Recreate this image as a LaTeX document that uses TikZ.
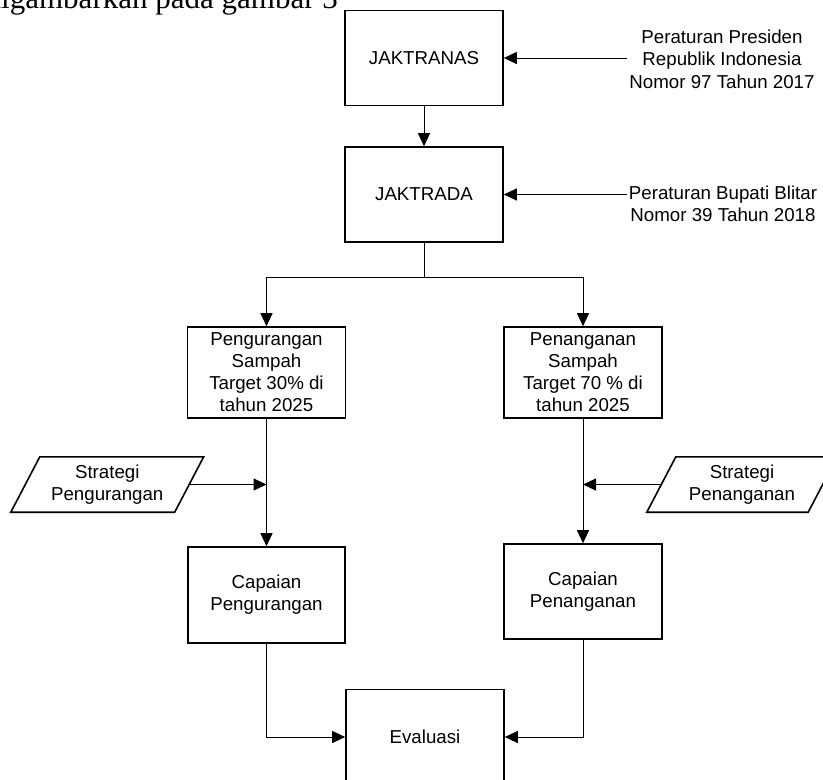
\documentclass[tikz,border=0pt]{standalone}
\usepackage{fontspec}
\setmainfont{Liberation Sans}
\newfontfamily\serifhead{Liberation Serif}
\usetikzlibrary{arrows.meta,calc}
\begin{document}
\begin{tikzpicture}[x=1pt,y=-1pt,
  box/.style={draw, line width=1.6pt, minimum width=158pt, minimum height=95pt, inner sep=0pt, align=center, font=\fontsize{18.7}{22}\selectfont},
  lbl/.style={align=center, inner sep=2pt, font=\fontsize{18.7}{22.5}\selectfont},
  para/.style={align=center, inner sep=0pt, minimum height=55pt, font=\fontsize{18.7}{22}\selectfont},
  paraline/.style={line width=1.6pt},
  conn/.style={line width=1pt, draw=black},
  arr/.style={conn, -{Triangle[length=13pt,width=12pt]}},
]
\useasboundingbox (0,0) rectangle (823,780);
\clip (0,0) rectangle (823,780);

% cropped caption text at the top
\node[anchor=base east, inner sep=0pt, font=\serifhead\fontsize{31}{31}\selectfont] (cap) at (338,8) {digambarkan pada gambar 3};

% boxes
\node[box] (jn) at (424,58) {JAKTRANAS};
\node[box] (jd) at (424,194.5) {JAKTRADA};
\node[box, minimum height=91pt] (ps) at (266.5,372.5) {Pengurangan\\Sampah\\Target 30\% di\\tahun 2025};
\node[box, minimum height=91pt] (pn) at (583,372.5) {Penanganan\\Sampah\\Target 70 \% di\\tahun 2025};
\node[box, minimum width=157pt, minimum height=96pt] (cp) at (266.5,595) {Capaian\\Pengurangan};
\node[box] (cn) at (583,591.5) {Capaian\\Penanganan};
\node[box] (ev) at (425,737) {Evaluasi};

% legal basis labels
\node[lbl] (law1) at (722,59) {Peraturan Presiden\\Republik Indonesia\\Nomor 97 Tahun 2017};
\node[lbl] (law2) at (723,204) {Peraturan Bupati Blitar\\Nomor 39 Tahun 2018};

% strategy parallelograms
\node[para, minimum width=163.5pt] (sp) at (107.25,484.5) {Strategi\\Pengurangan};
\draw[paraline] ($(sp.north west)+(14.5,0)$) -- ($(sp.north east)+(14.5,0)$) -- ($(sp.south east)+(-14.5,0)$) -- ($(sp.south west)+(-14.5,0)$) -- cycle;
\node[para, minimum width=161pt] (sn) at (742,484.5) {Strategi\\Penanganan};
\draw[paraline] ($(sn.north west)+(14.5,0)$) -- ($(sn.north east)+(14.5,0)$) -- ($(sn.south east)+(-14.5,0)$) -- ($(sn.south west)+(-14.5,0)$) -- cycle;

% connectors
\draw[arr] (law1.west |- jn.east) -- (jn.east);
\draw[arr] (jn) -- (jd);
\draw[arr] (law2.west |- jd.east) -- (jd.east);
\coordinate (br) at (424,277);
\draw[arr] (jd.south) -- (br) -| (ps.north);
\draw[arr] (br) -| (pn.north);
\draw[arr] (ps.south) -- (cp.north);
\draw[arr] (sp.east) -- (ps.south |- sp.east);
\draw[arr] (pn.south) -- (cn.north);
\draw[arr] (sn.west) -- (pn.south |- sn.west);
\draw[arr] (cp.south) |- (ev.west);
\draw[arr] (cn.south) |- (ev.east);
\end{tikzpicture}
\end{document}
